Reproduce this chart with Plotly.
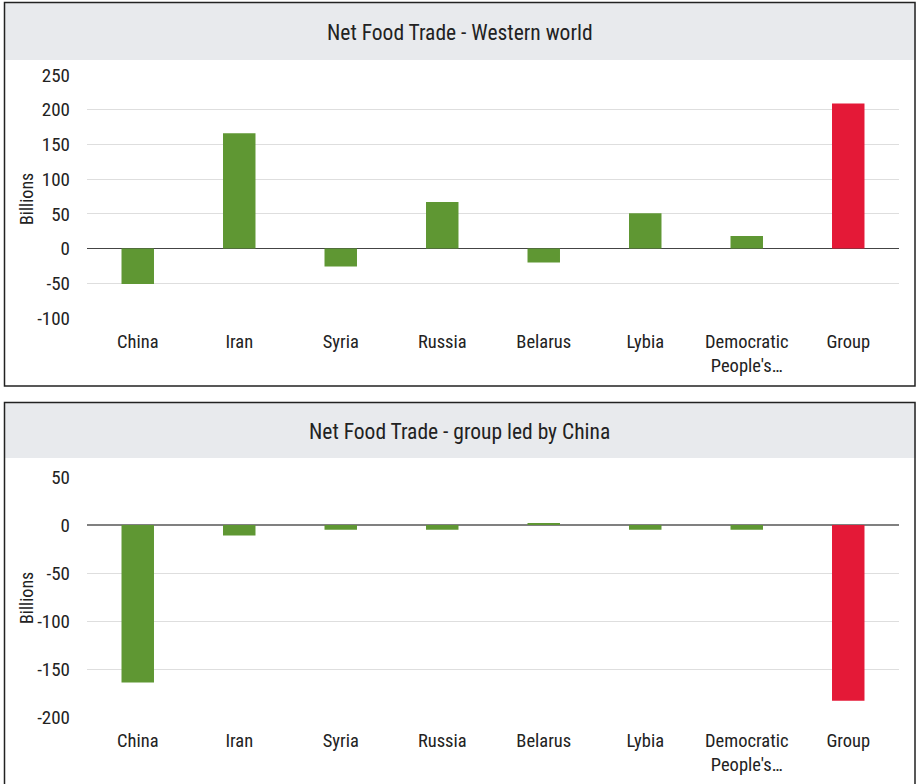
import plotly.graph_objects as go

categories = ["China", "Iran", "Syria", "Russia", "Belarus", "Lybia", "Democratic<br>People's…", "Group"]
western_values = [-51, 166, -26, 67, -20, 51, 18, 209]
china_group_values = [-164, -11, -5, -5, 2, -5, -5, -183]
top_ticks = [-100, -50, 0, 50, 100, 150, 200, 250]
top_tick_labels = ["-100", "-50", "0", "50", "100", "150", "200", "250"]
bottom_ticks = [-200, -150, -100, -50, 0, 50]
bottom_tick_labels = ["-200", "-150", "-100", "-50", "0", "50"]
top_title = "Net Food Trade - Western world"
bottom_title = "Net Food Trade - group led by China"
y_label = "Billions"

GREEN = "#5f9733"
RED = "#e41937"
W, H = 916, 784
FONT = "Roboto Condensed, Liberation Sans Narrow, Roboto, sans-serif"

def px(x):
    return x / W

def py(y):
    return 1 - y / H

colors = [GREEN] * (len(categories) - 1) + [RED]

fig = go.Figure()
fig.add_trace(go.Bar(x=categories, y=western_values, marker=dict(color=colors, line=dict(width=0)),
                     xaxis="x", yaxis="y", width=0.32, showlegend=False))
fig.add_trace(go.Bar(x=categories, y=china_group_values, marker=dict(color=colors, line=dict(width=0)),
                     xaxis="x2", yaxis="y2", width=0.32, showlegend=False))

tick_font = dict(family=FONT, size=19, color="#222")
cat_font = dict(family=FONT, size=18.5, color="#222")

fig.update_layout(
    width=W, height=H,
    margin=dict(l=0, r=0, t=0, b=0, pad=0, autoexpand=False),
    paper_bgcolor="white", plot_bgcolor="white",
    font=dict(family=FONT),
    xaxis=dict(domain=[px(87), px(899)], anchor="y", tickfont=cat_font, showgrid=False,
               showline=False, ticks="", ticklabelstandoff=10, automargin=False),
    yaxis=dict(domain=[py(318), py(75)], anchor="x", range=[-100, 250], tickvals=top_ticks,
               ticktext=top_tick_labels,
               tickfont=tick_font, gridcolor="#dedede", gridwidth=1, zeroline=True,
               zerolinecolor="#444", zerolinewidth=1, layer="above traces", ticks="",
               ticklabelstandoff=16, showline=False, automargin=False),
    xaxis2=dict(domain=[px(87), px(899)], anchor="y2", tickfont=cat_font, showgrid=False,
                showline=False, ticks="", ticklabelstandoff=10, automargin=False),
    yaxis2=dict(domain=[py(717), py(477)], anchor="x2", range=[-200, 50], tickvals=bottom_ticks,
                ticktext=bottom_tick_labels,
                tickfont=tick_font, gridcolor="#dedede", gridwidth=1, zeroline=True,
                zerolinecolor="#808080", zerolinewidth=2, layer="above traces", ticks="",
                ticklabelstandoff=16, showline=False, automargin=False),
    bargap=0.68,
)

shapes = []
for (top, bottom, band_bottom) in [(2.5, 386, 60), (402.5, 790, 458)]:
    shapes.append(dict(type="rect", xref="paper", yref="paper", x0=px(5), x1=px(916), y0=py(band_bottom),
                       y1=py(top), fillcolor="#e8eaed", line=dict(width=0), layer="below"))
    shapes.append(dict(type="rect", xref="paper", yref="paper", x0=px(4.5), x1=px(915), y0=py(bottom),
                       y1=py(top), fillcolor="rgba(0,0,0,0)", line=dict(color="#222", width=1.5)))
fig.update_layout(shapes=shapes)

annotations = [
    dict(text=top_title, x=px(460), y=py(32), xref="paper", yref="paper", showarrow=False,
         font=dict(family=FONT, size=21.5, color="#222"), xanchor="center", yanchor="middle"),
    dict(text=bottom_title, x=px(460), y=py(432), xref="paper", yref="paper", showarrow=False,
         font=dict(family=FONT, size=21.5, color="#222"), xanchor="center", yanchor="middle"),
    dict(text=y_label, x=px(26), y=py(199), xref="paper", yref="paper", showarrow=False, textangle=-90,
         font=dict(family=FONT, size=18, color="#222"), xanchor="center", yanchor="middle"),
    dict(text=y_label, x=px(26), y=py(598), xref="paper", yref="paper", showarrow=False, textangle=-90,
         font=dict(family=FONT, size=18, color="#222"), xanchor="center", yanchor="middle"),
]
fig.update_layout(annotations=annotations)

fig.write_html("out.html", config={"displayModeBar": False},
               post_script="document.body.style.margin='0';document.body.style.overflow='hidden';")
